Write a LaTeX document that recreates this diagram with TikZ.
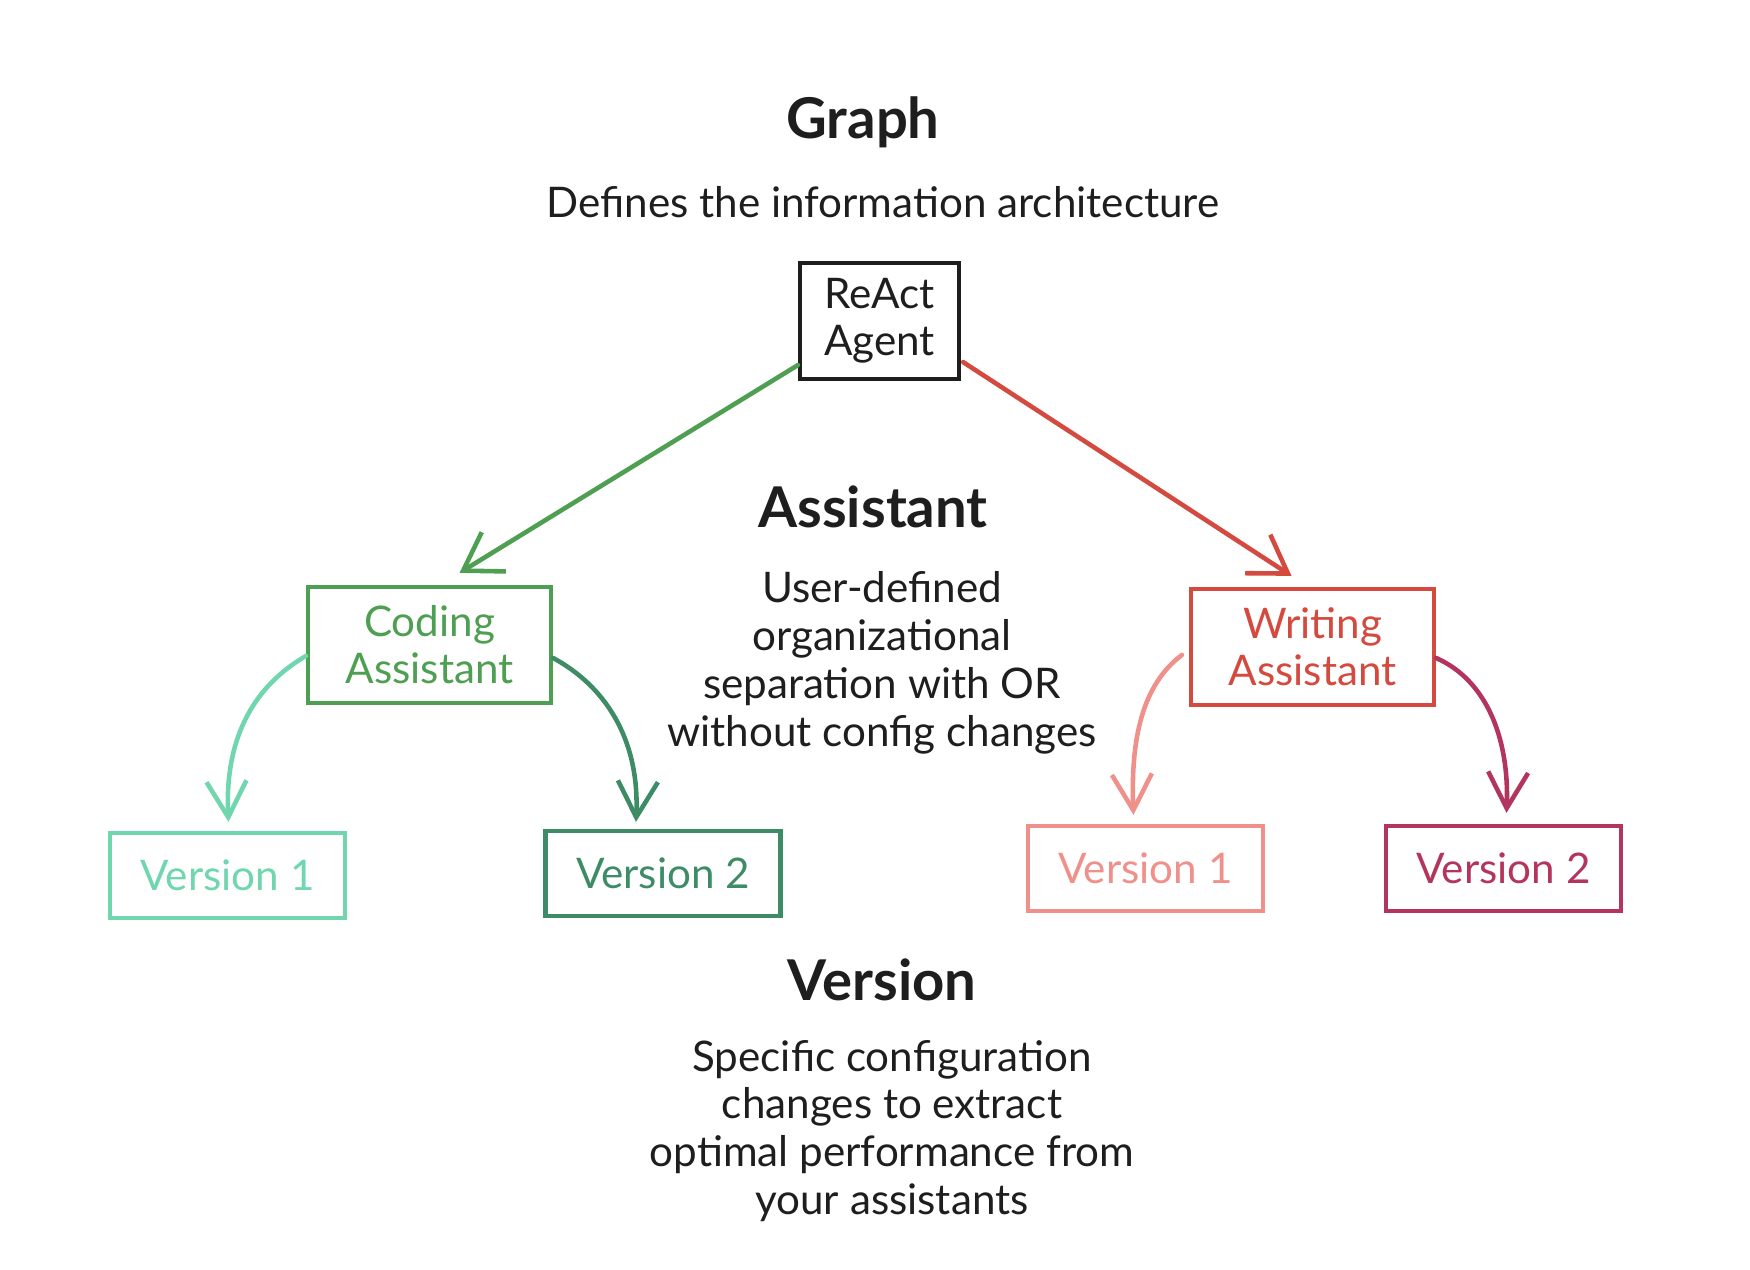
\documentclass[tikz,border=0pt]{standalone}
\usepackage{fontspec}
\setmainfont{Lato}
\usetikzlibrary{arrows.meta,calc}
\definecolor{ink}{HTML}{1E1E1E}
\definecolor{cgreen}{HTML}{4E9F52}
\definecolor{cred}{HTML}{D44A3F}
\definecolor{cteal}{HTML}{6FD6AE}
\definecolor{cdkgreen}{HTML}{3D8C66}
\definecolor{csalmon}{HTML}{F0908A}
\definecolor{cmag}{HTML}{B3355E}
\begin{document}
\begin{tikzpicture}[x=0.1mm,y=-0.1mm,
  title/.style={font=\fontsize{16}{18}\selectfont\bfseries, text=ink, inner sep=0pt},
  desc/.style={font=\fontsize{12}{13.6}\selectfont, text=ink, align=center, inner sep=0pt},
  box/.style={draw, line width=1.2pt, align=center, inner sep=0pt, font=\fontsize{12}{13.4}\selectfont},
  bigbox/.style={box, minimum width=24.3mm, minimum height=11.6mm},
  verbox/.style={box, minimum width=23.5mm, minimum height=8.5mm},
  arr/.style={-{Straight Barb[length=3.6mm,width=4.6mm,line width=1.3pt]}, line width=1.3pt, line cap=round},
  varr/.style={-{Straight Barb[length=3.6mm,width=4mm,line width=1.3pt]}, line width=1.3pt, line cap=round}]
\useasboundingbox (0,0) rectangle (1750,1270);

% titles and descriptions
\node[title, anchor=base] (tgraph) at (863,139) {Graph};
\node[desc, anchor=base] (dgraph) at (883,218) {Defines the information architecture};
\node[title, anchor=base] (tassist) at (873,528) {Assistant};
\node[desc] (dassist) at (882,663) {User-defined\\organizational\\separation with OR\\without config changes};
\node[title, anchor=base] (tversion) at (882,1001) {Version};
\node[desc] (dversion) at (892,1131) {Specific configuration\\changes to extract\\optimal performance from\\your assistants};

% boxes
\node[box, draw=ink, text=ink, minimum width=15.9mm, minimum height=11.6mm] (react) at (879.5,321) {ReAct\\Agent};
\node[bigbox, draw=cgreen, text=cgreen] (coding) at (429.5,645) {Coding\\Assistant};
\node[bigbox, draw=cred, text=cred] (writing) at (1312.5,647) {Writing\\Assistant};
\node[verbox, draw=cteal, text=cteal] (lv1) at (227.5,875.5) {Version 1};
\node[verbox, draw=cdkgreen, text=cdkgreen] (lv2) at (663,873.5) {Version 2};
\node[verbox, draw=csalmon, text=csalmon] (rv1) at (1145.5,868.5) {Version 1};
\node[verbox, draw=cmag, text=cmag] (rv2) at (1503.5,868.5) {Version 2};

% connectors
\draw[arr, cgreen] ($(react.south west)+(0,-16)$) -- ($(coding.north)+(30,-12)$);
\draw[arr, cred] ($(react.south east)+(2,-19)$) -- ($(writing.north)+(-21,-11)$);
\draw[varr, cteal] ($(coding.west)+(0,11)$) .. controls +(-55,32) and +(-4,-80) .. ($(lv1.north)+(1,-9)$);
\draw[varr, cdkgreen] ($(coding.east)+(0,13)$) .. controls +(50,27) and +(4,-85) .. ($(lv2.north)+(-27,-7)$);
\draw[varr, csalmon] ($(writing.west)+(-7,8)$) .. controls +(-40,30) and +(-3,-75) .. ($(rv1.north)+(-12,-9)$);
\draw[varr, cmag] ($(writing.east)+(0,11)$) .. controls +(50,22) and +(3,-75) .. ($(rv2.north)+(3,-11)$);
\end{tikzpicture}
\end{document}
